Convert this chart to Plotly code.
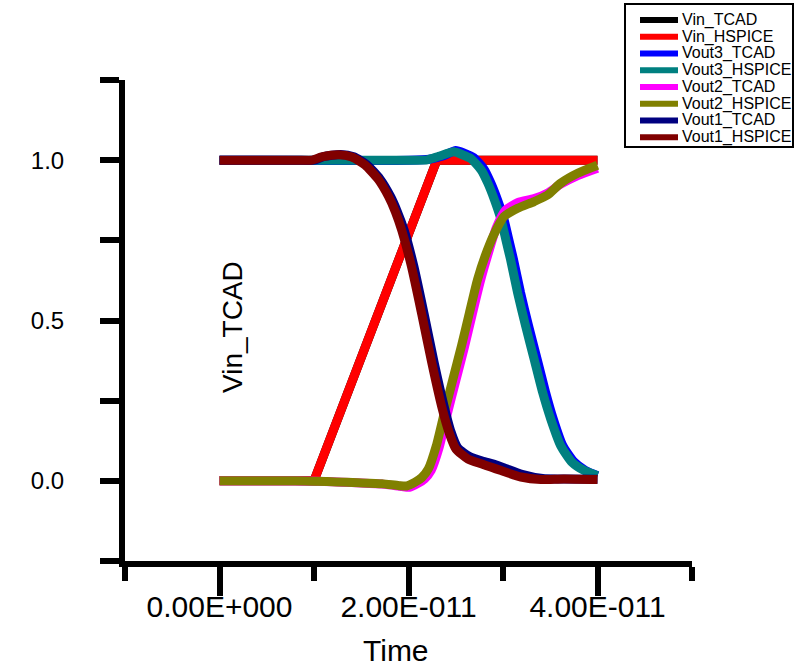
import plotly.graph_objects as go

# Transient waveforms: TCAD vs HSPICE (time in picoseconds, voltage normalised)
t_vin_tcad = [0, 10.0, 23.0, 40.0]
v_vin_tcad = [0, 0, 1.0, 1.0]

t_vin_hspice = [0, 10.0, 23.0, 40.0]
v_vin_hspice = [0, 0, 1.0, 1.0]

t_vout3_tcad = [0, 20.0, 22.2, 23.7, 25.0, 25.9, 26.9, 28.0, 28.7, 29.4, 30.1, 30.6,
                31.1, 31.85, 32.7, 33.6, 34.5, 35.3, 36.3, 37.5, 38.7, 40.0]
v_vout3_tcad = [1.0, 1.0, 1.003, 1.014, 1.03, 1.022, 1.008, 0.972, 0.93, 0.878, 0.816, 0.754,
                0.692, 0.588, 0.484, 0.381, 0.277, 0.195, 0.112, 0.06, 0.033, 0.016]

t_vout3_hspice = [0, 20.0, 22.0, 23.2, 24.8, 25.7, 26.6, 27.7, 28.4, 29.1, 29.8, 30.3,
                  30.8, 31.55, 32.4, 33.3, 34.2, 35.05, 36.1, 37.3, 38.6, 40.0]
v_vout3_hspice = [1.0, 1.0, 1.001, 1.012, 1.026, 1.017, 1.005, 0.969, 0.928, 0.876, 0.814, 0.752,
                  0.69, 0.586, 0.482, 0.379, 0.275, 0.193, 0.11, 0.058, 0.032, 0.016]

t_vout2_tcad = [0, 8.0, 15.0, 17.5, 19.3, 20.1, 21.0, 21.7, 22.4, 23.25, 24.1, 25.0,
                25.9, 26.75, 27.6, 28.4, 29.3, 30.3, 31.6, 33.3, 34.7, 36.1, 37.9, 40.0]
v_vout2_tcad = [0, 0, -0.007, -0.011, -0.018, -0.02, -0.008, 0.006, 0.033, 0.105, 0.208, 0.312,
                0.415, 0.52, 0.622, 0.705, 0.79, 0.845, 0.868, 0.88, 0.897, 0.925, 0.952, 0.975]

t_vout2_hspice = [0, 8.0, 14.7, 17.2, 19.0, 19.8, 20.7, 21.4, 22.1, 22.95, 23.8, 24.7,
                  25.6, 26.45, 27.3, 28.1, 29.1, 30.1, 31.55, 33.3, 34.7, 36.1, 37.9, 40.0]
v_vout2_hspice = [0, 0, -0.006, -0.009, -0.015, -0.016, -0.004, 0.01, 0.037, 0.11, 0.213, 0.317,
                  0.42, 0.524, 0.627, 0.70, 0.772, 0.824, 0.85, 0.871, 0.891, 0.928, 0.959, 0.984]

t_vout1_tcad = [0, 8.0, 10.0, 11.0, 12.8, 14.2, 15.6, 17.0, 18.1, 18.8, 19.55, 20.55,
                21.65, 22.7, 23.75, 24.5, 25.2, 26.5, 27.8, 29.0, 30.0, 32.0, 34.2, 36.6, 40.0]
v_vout1_tcad = [1.0, 1.0, 1.0, 1.011, 1.018, 1.011, 0.986, 0.941, 0.887, 0.841, 0.781, 0.671,
                0.521, 0.371, 0.235, 0.153, 0.104, 0.075, 0.062, 0.052, 0.042, 0.02, 0.007, 0.006, 0.005]

t_vout1_hspice = [0, 8.0, 9.8, 10.8, 12.6, 14.0, 15.4, 16.8, 17.9, 18.6, 19.3, 20.3,
                  21.4, 22.45, 23.5, 24.3, 25.0, 26.3, 27.7, 28.7, 29.8, 31.9, 34.0, 36.4, 40.0]
v_vout1_hspice = [1.0, 1.0, 1.0, 1.01, 1.017, 1.01, 0.985, 0.94, 0.886, 0.84, 0.78, 0.67,
                  0.52, 0.37, 0.233, 0.15, 0.10, 0.068, 0.053, 0.043, 0.032, 0.012, 0.004, 0.006, 0.004]

series = [
    ("Vin_TCAD", t_vin_tcad, v_vin_tcad, "#000000", "linear"),
    ("Vin_HSPICE", t_vin_hspice, v_vin_hspice, "#FF0000", "linear"),
    ("Vout3_TCAD", t_vout3_tcad, v_vout3_tcad, "#0000FF", "spline"),
    ("Vout3_HSPICE", t_vout3_hspice, v_vout3_hspice, "#008080", "spline"),
    ("Vout2_TCAD", t_vout2_tcad, v_vout2_tcad, "#FF00FF", "spline"),
    ("Vout2_HSPICE", t_vout2_hspice, v_vout2_hspice, "#808000", "spline"),
    ("Vout1_TCAD", t_vout1_tcad, v_vout1_tcad, "#000080", "spline"),
    ("Vout1_HSPICE", t_vout1_hspice, v_vout1_hspice, "#800000", "spline"),
]

x_major = [0, 2e-11, 4e-11]
x_major_text = ["0.00E+000", "2.00E-011", "4.00E-011"]
x_minor = [-1e-11, 1e-11, 3e-11, 5e-11]
y_ticks = [-0.25, 0, 0.25, 0.5, 0.75, 1.0, 1.25]
y_tick_text = ["", "0.0", "", "0.5", "", "1.0", ""]

FONT = "Liberation Sans, Arial, sans-serif"

# figure / plot-area geometry in pixels
W_FIG, H_FIG = 795, 668
M_L, M_R, M_T, M_B = 125, 103, 80, 107
PW = W_FIG - M_L - M_R
PH = H_FIG - M_T - M_B


def px_x(px):
    return (px - M_L) / PW


def px_y(py):
    return (H_FIG - M_B - py) / PH


fig = go.Figure()
for name, t, v, color, shape in series:
    line = dict(color=color, width=9, shape=shape)
    if shape == "spline":
        line["smoothing"] = 0.6
    fig.add_trace(go.Scatter(
        x=[p * 1e-12 for p in t], y=v, mode="lines", name=name,
        line=line, showlegend=False,
    ))

# boxed legend, top right
LEG_BOX = (625, 4, 793, 147)
LEG_ROW0, LEG_ROW_STEP = 20, 16.75
shapes = [dict(type="rect", xref="paper", yref="paper",
               x0=px_x(LEG_BOX[0]), x1=px_x(LEG_BOX[2]),
               y0=px_y(LEG_BOX[1]), y1=px_y(LEG_BOX[3]),
               line=dict(color="black", width=2), fillcolor="white", layer="above")]
annotations = []
for i, (name, t, v, color, shape) in enumerate(series):
    yc = LEG_ROW0 + i * LEG_ROW_STEP
    shapes.append(dict(type="line", xref="paper", yref="paper",
                       x0=px_x(640), x1=px_x(678), y0=px_y(yc), y1=px_y(yc),
                       line=dict(color=color, width=6), layer="above"))
    annotations.append(dict(text=name, xref="paper", yref="paper",
                            x=px_x(680), y=px_y(yc), xanchor="left", yanchor="middle",
                            showarrow=False,
                            font=dict(family=FONT, size=16, color="black")))

# axis titles
annotations.append(dict(
    text="Vin_TCAD", xref="paper", yref="paper", x=px_x(232), y=px_y(327),
    xanchor="center", yanchor="middle", textangle=-90, showarrow=False,
    font=dict(family=FONT, size=28, color="black"),
))
annotations.append(dict(
    text="Time", xref="paper", yref="paper", x=px_x(396), y=px_y(650),
    xanchor="center", yanchor="middle", showarrow=False,
    font=dict(family=FONT, size=30, color="black"),
))

fig.update_xaxes(
    range=[-1e-11, 5e-11], showline=True, linewidth=6, linecolor="black",
    tickmode="array", tickvals=x_major, ticktext=x_major_text,
    ticks="outside", ticklen=29, tickwidth=6, tickcolor="black",
    minor=dict(tickmode="array", tickvals=x_minor, ticks="outside",
               ticklen=14, tickwidth=6, tickcolor="black", showgrid=False),
    showgrid=False, zeroline=False, ticklabelstandoff=-15,
    tickfont=dict(family=FONT, size=30, color="black"),
)
fig.update_yaxes(
    range=[-0.25, 1.25], showline=True, linewidth=6, linecolor="black",
    tickmode="array", tickvals=y_ticks, ticktext=y_tick_text,
    ticks="outside", ticklen=19, tickwidth=6, tickcolor="black",
    showgrid=False, zeroline=False, ticklabelstandoff=31,
    tickfont=dict(family=FONT, size=24, color="black"),
)

fig.update_layout(
    width=W_FIG, height=H_FIG,
    margin=dict(l=M_L, r=M_R, t=M_T, b=M_B, autoexpand=False),
    paper_bgcolor="white", plot_bgcolor="white",
    font=dict(family=FONT, color="black"),
    showlegend=False,
    shapes=shapes, annotations=annotations,
)

fig.write_html("out.html")
